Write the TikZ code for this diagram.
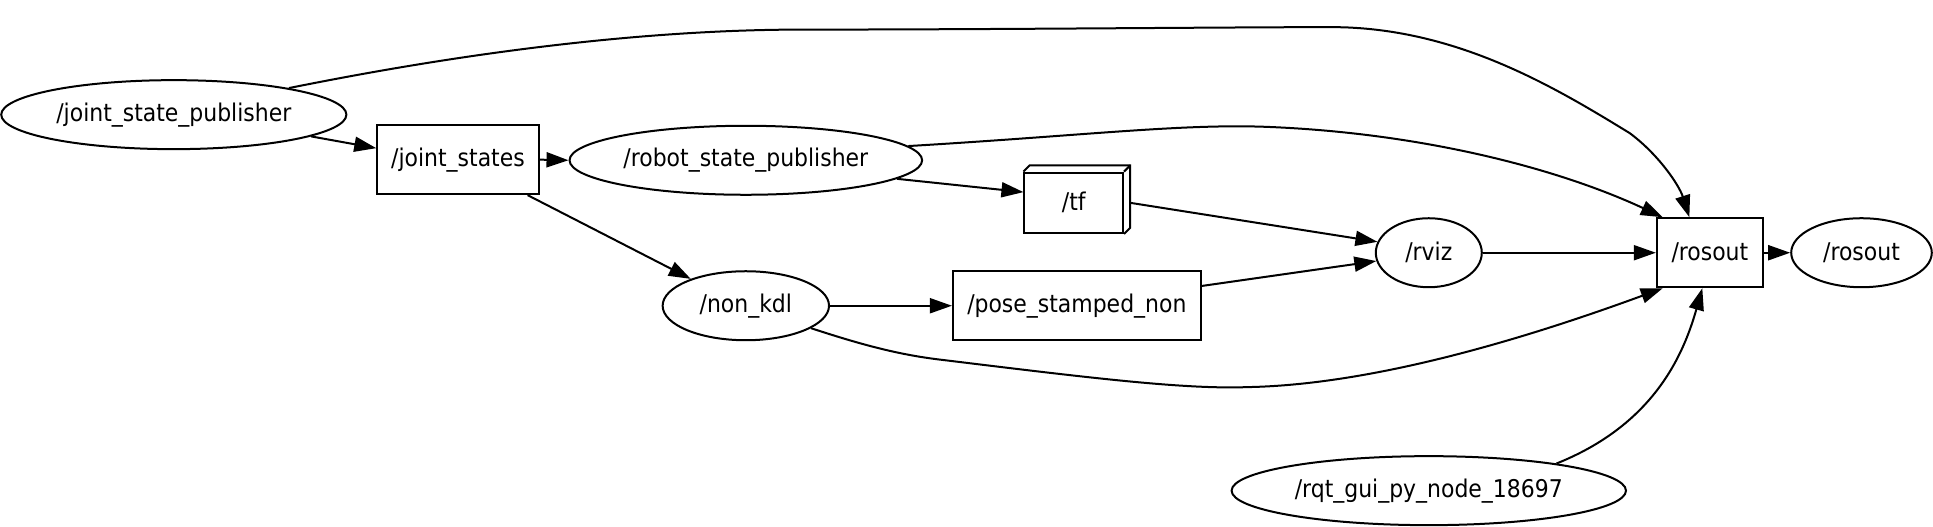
\documentclass[tikz,border=0pt]{standalone}
\usepackage{fontspec}
\setmainfont{DejaVu Sans Condensed}
\usetikzlibrary{arrows.meta, shapes.geometric}

\begin{document}
\begin{tikzpicture}[x=0.6164pt, y=-0.6164pt, >={Triangle[length=11pt,width=7.5pt]},
		every node/.style={draw, line width=1pt, inner sep=0pt, font=\fontsize{12.2}{14}\selectfont},
		rosnode/.style={ellipse, minimum height=34.5pt},
		topic/.style={rectangle, minimum height=34.5pt},
		edge/.style={line width=1pt, ->}]
		\useasboundingbox (0,0) rectangle (1568,427);
		% nodes and topics
		\node[rosnode, minimum width=172.6pt] (jsp) at (141,93) {/joint\_state\_publisher};
		\node[topic, minimum width=80.7pt] (js) at (371.5,129.5) {/joint\_states};
		\node[rosnode, minimum width=176.3pt] (rsp) at (605,130) {/robot\_state\_publisher};
		\node[topic, minimum width=49.3pt, minimum height=30.2pt] (tf) at (871,164.5) {/tf};
		\draw[line width=1pt] (tf.north west) -- ++(5,-5) -- ([shift={(5,-5)}]tf.north east)
			-- ([shift={(5,-5)}]tf.south east) -- (tf.south east);
		\draw[line width=1pt] (tf.north east) -- ++(5,-5);
		\node[rosnode, minimum width=83.2pt] (nonkdl) at (605,248) {/non\_kdl};
		\node[topic, minimum width=123.9pt] (pose) at (873.5,248) {/pose\_stamped\_non};
		\node[rosnode, minimum width=53pt] (rviz) at (1159,205) {/rviz};
		\node[topic, minimum width=53pt] (rosout) at (1387,205) {/rosout};
		\node[rosnode, minimum width=70.3pt] (rosoutnode) at (1510,205) {/rosout};
		\node[rosnode, minimum width=197.2pt] (rqt) at (1159,398) {/rqt\_gui\_py\_node\_18697};

		% connections
		\draw[edge] (jsp.13) .. controls (400,38) and (540,24) .. (650,24)
			.. controls (800,24) and (1000,22) .. (1080,22)
			.. controls (1180,22) and (1260,70) .. (1322,108)
			.. controls (1345,125) and (1362,150) .. (rosout.120);
		\draw[edge] (jsp.-9) -- (js.172);
		\draw[edge] (js.east) -- (rsp.west);
		\draw[edge] (js.-27) -- (nonkdl.154);
		\draw[edge] (rsp.5) .. controls (880,110) and (960,100) .. (1030,103)
			.. controls (1150,108) and (1260,135) .. (rosout.143);
		\draw[edge] (rsp.-7) -- (tf.168);
		\draw[edge] ([xshift=3pt]tf.east) -- (rviz.168);
		\draw[edge] (pose.9) -- (rviz.189);
		\draw[edge] (rviz.east) -- (rosout.west);
		\draw[edge] (nonkdl.-19) .. controls (700,280) and (730,288) .. (765,292)
			.. controls (880,306) and (960,316) .. (1012,314)
			.. controls (1120,312) and (1250,270) .. (rosout.217);
		\draw[edge] (nonkdl.east) -- (pose.west);
		\draw[edge] (rqt.12) .. controls (1340,345) and (1365,290) .. (rosout.258);
		\draw[edge] (rosout.east) -- (rosoutnode.west);
	\end{tikzpicture}
\end{document}
